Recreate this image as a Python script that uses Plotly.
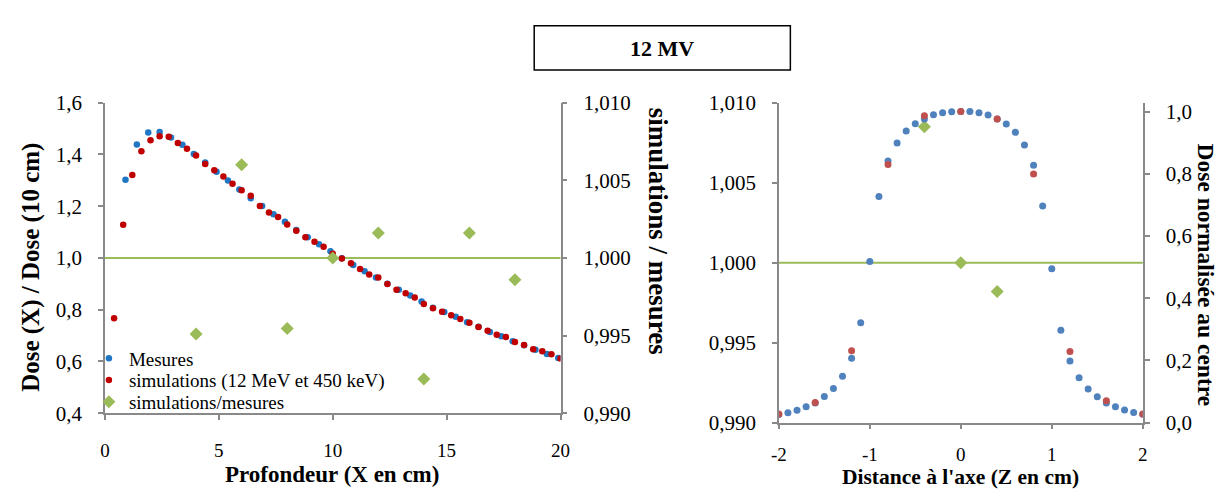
import plotly.graph_objects as go

# ---------------- Left chart data ----------------
depth_mes = [0.9, 1.4, 1.9, 2.4, 2.9, 3.4, 3.9, 4.4, 4.9, 5.4, 5.9, 6.4, 6.9, 7.4, 7.9,
             8.4, 8.9, 9.4, 9.9, 10.4, 10.9, 11.4, 11.9, 12.4, 12.9, 13.4, 13.9, 14.4,
             14.9, 15.4, 15.9, 16.4, 16.9, 17.4, 17.9, 18.4, 18.9, 19.4, 19.9]
dose_mes = [1.302, 1.438, 1.485, 1.487, 1.465, 1.437, 1.402, 1.369, 1.333, 1.299, 1.264,
            1.231, 1.201, 1.169, 1.140, 1.108, 1.080, 1.053, 1.026, 0.999, 0.973, 0.948,
            0.924, 0.900, 0.877, 0.855, 0.832, 0.807, 0.791, 0.773, 0.751, 0.734, 0.714,
            0.697, 0.678, 0.662, 0.645, 0.629, 0.613]

depth_sim = [0.4, 0.8, 1.2, 1.6, 2.0, 2.4, 2.8, 3.2, 3.6, 4.0, 4.4, 4.8, 5.2, 5.6, 6.0,
             6.4, 6.8, 7.2, 7.6, 8.0, 8.4, 8.8, 9.2, 9.6, 10.0, 10.4, 10.8, 11.2, 11.6,
             12.0, 12.4, 12.8, 13.2, 13.6, 14.0, 14.4, 14.8, 15.2, 15.6, 16.0, 16.4,
             16.8, 17.2, 17.6, 18.0, 18.4, 18.8, 19.2, 19.6, 20.0]
dose_sim = [0.767, 1.128, 1.320, 1.412, 1.455, 1.470, 1.468, 1.444, 1.422, 1.396, 1.363,
            1.339, 1.315, 1.287, 1.262, 1.240, 1.201, 1.176, 1.158, 1.129, 1.105, 1.080,
            1.062, 1.043, 1.016, 0.998, 0.979, 0.957, 0.936, 0.924, 0.899, 0.877, 0.863,
            0.847, 0.822, 0.805, 0.792, 0.778, 0.764, 0.749, 0.733, 0.718, 0.703, 0.694,
            0.675, 0.663, 0.647, 0.639, 0.628, 0.611]

depth_ratio = [4, 6, 8, 10, 12, 14, 16, 18]
ratio_depth = [0.9951, 1.0060, 0.99545, 1.0000, 1.0016, 0.9922, 1.0016, 0.9986]

# ---------------- Right chart data ----------------
z_mes = [-2.0, -1.9, -1.8, -1.7, -1.6, -1.5, -1.4, -1.3, -1.2, -1.1, -1.0, -0.9, -0.8,
         -0.7, -0.6, -0.5, -0.4, -0.3, -0.2, -0.1, 0.0, 0.1, 0.2, 0.3, 0.4, 0.5, 0.6,
         0.7, 0.8, 0.9, 1.0, 1.1, 1.2, 1.3, 1.4, 1.5, 1.6, 1.7, 1.8, 1.9, 2.0]
prof_mes = [0.026, 0.032, 0.040, 0.051, 0.063, 0.084, 0.110, 0.149, 0.207, 0.321, 0.518,
            0.727, 0.841, 0.899, 0.937, 0.961, 0.976, 0.990, 0.996, 0.999, 1.000, 1.000,
            0.996, 0.989, 0.976, 0.960, 0.933, 0.892, 0.827, 0.696, 0.495, 0.297, 0.198,
            0.144, 0.108, 0.083, 0.063, 0.051, 0.041, 0.033, 0.027]

z_sim = [-2.0, -1.6, -1.2, -0.8, -0.4, 0.0, 0.4, 0.8, 1.2, 1.6, 2.0]
prof_sim = [0.0275, 0.065, 0.231, 0.830, 0.986, 1.000, 0.976, 0.799, 0.229, 0.070, 0.0275]

z_ratio = [-0.4, 0.0, 0.4]
ratio_prof = [1.0085, 1.0000, 0.9982]

z_ticks = [-2, -1, 0, 1, 2]
z_ticktext = ["-2", "-1", "0", "1", "2"]

FONT = "Liberation Serif"
AXC = "#898989"
GREEN = "#9BBB59"
TICK_SIZE = 21
XTICK_SIZE = 19
LEG_SIZE = 19

fig = go.Figure()

# Left chart
fig.add_trace(go.Scatter(x=depth_mes, y=dose_mes, mode="markers", name="Mesures", legend="legend",
                         marker=dict(color="#1F77C4", size=6.5), xaxis="x", yaxis="y"))
fig.add_trace(go.Scatter(x=depth_sim, y=dose_sim, mode="markers", legend="legend2",
                         name="simulations (12 MeV et 450 keV)",
                         marker=dict(color="#C00000", size=6.5), xaxis="x", yaxis="y"))
fig.add_trace(go.Scatter(x=depth_ratio, y=ratio_depth, mode="markers", name="simulations/mesures",
                         legend="legend3",
                         marker=dict(color=GREEN, size=10, symbol="diamond"), xaxis="x", yaxis="y2"))

# Right chart
fig.add_trace(go.Scatter(x=z_mes, y=prof_mes, mode="markers", showlegend=False,
                         marker=dict(color="#4F81BD", size=7), xaxis="x2", yaxis="y4"))
fig.add_trace(go.Scatter(x=z_sim, y=prof_sim, mode="markers", showlegend=False,
                         marker=dict(color="#C0504D", size=7), xaxis="x2", yaxis="y4"))
fig.add_trace(go.Scatter(x=z_ratio, y=ratio_prof, mode="markers", showlegend=False,
                         marker=dict(color=GREEN, size=10, symbol="diamond"), xaxis="x2", yaxis="y3"))

W, H = 1215, 483
OFF = 8  # default body margin of the page
def px(x):
    return (x - OFF) / W
def py(y):
    return 1 - (y - OFF) / H

axis_common = dict(showgrid=False, zeroline=False, showline=True, linecolor=AXC, linewidth=1.5,
                   ticks="outside", ticklen=5, tickcolor=AXC, tickwidth=1.5)
yfont = dict(tickfont=dict(family=FONT, size=TICK_SIZE, color="#000"))
xfont = dict(tickfont=dict(family=FONT, size=XTICK_SIZE, color="#000"))

def ann(text, x, y, size=23.5, angle=0):
    return dict(text=text, x=px(x), y=py(y), xref="paper", yref="paper", showarrow=False,
                xanchor="center", yanchor="middle", textangle=angle,
                font=dict(family=FONT, size=size, color="#000"))

def leg(yc):
    return dict(x=px(82), y=py(yc), xanchor="left", yanchor="middle",
                bgcolor="rgba(0,0,0,0)", font=dict(family=FONT, size=LEG_SIZE, color="#000"),
                itemwidth=30, borderwidth=0)

fig.update_layout(
    width=W, height=H, margin=dict(l=0, r=0, t=0, b=0),
    paper_bgcolor="white", plot_bgcolor="white",
    separators=", ",
    font=dict(family=FONT, color="#000"),
    xaxis=dict(domain=[px(98.3), px(560.7)], anchor="y", range=[0, 20], dtick=5,
               ticklabelstandoff=14, **axis_common, **xfont),
    yaxis=dict(domain=[py(421.7), py(95)], anchor="x", range=[0.4, 1.6], dtick=0.2,
               tickformat=".1f", ticklabelstandoff=12, **axis_common, **yfont),
    yaxis2=dict(overlaying="y", side="right", anchor="x", range=[0.99, 1.01], dtick=0.005,
                tickformat=".3f", ticklabelstandoff=12, **axis_common, **yfont),
    xaxis2=dict(domain=[px(782.3), px(1151.7)], anchor="y3", range=[-2, 2],
                tickvals=z_ticks, ticktext=z_ticktext, ticklabelstandoff=9, **axis_common, **xfont),
    yaxis3=dict(domain=[py(431.7), py(95)], anchor="x2", range=[0.99, 1.01], dtick=0.005,
                tickformat=".3f", ticklabelstandoff=12, **axis_common, **yfont),
    yaxis4=dict(overlaying="y3", side="right", anchor="x2", range=[0, 1.0284], dtick=0.2,
                tickformat=".1f", ticklabelstandoff=12, **axis_common, **yfont),
    legend=leg(364),
    legend2=leg(387),
    legend3=leg(410),
    shapes=[
        dict(type="line", xref="x domain", yref="y2", x0=0, x1=1, y0=1.0, y1=1.0,
             line=dict(color=GREEN, width=2), layer="below"),
        dict(type="line", xref="x2 domain", yref="y3", x0=0, x1=1, y0=1.0, y1=1.0,
             line=dict(color=GREEN, width=2), layer="below"),
        dict(type="rect", xref="paper", yref="paper", x0=px(534), x1=px(794), y0=py(60.7), y1=py(14),
             line=dict(color="#000", width=1.5)),
    ],
    annotations=[
        ann("<b>12 MV</b>", 664, 37.5, size=22),
        ann("<b>Dose (X) / Dose (10 cm)</b>", 23, 268, size=25, angle=-90),
        ann("<b>Profondeur (X en cm)</b>", 329, 486, size=23),
        ann("<b>simulations / mesures</b>", 660, 230, size=27, angle=90),
        ann("<b>Distance à l'axe (Z en cm)</b>", 967, 489, size=21.5),
        ann("<b>Dose normalisée au centre</b>", 1216, 276, angle=90),
    ],
)

fig.write_html("out.html")
